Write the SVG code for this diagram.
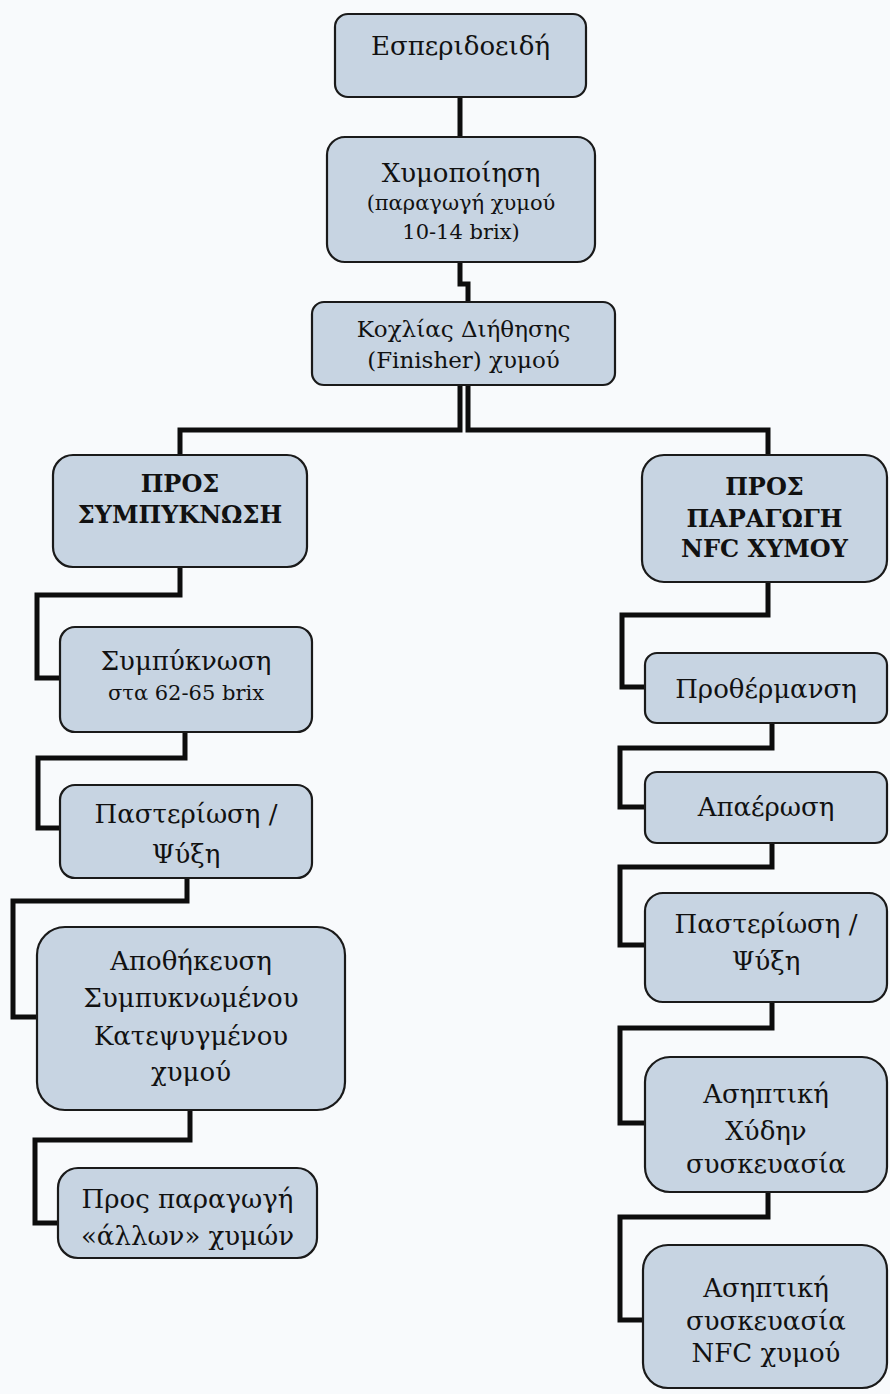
<svg xmlns="http://www.w3.org/2000/svg" width="890" height="1394" viewBox="0 0 890 1394">
<style>
.box{fill:#c7d4e2;stroke:#1a1a1a;stroke-width:2.2}
.t{font-family:"DejaVu Serif","Liberation Serif",serif;font-size:26px;fill:#111;text-anchor:middle}
.s{font-size:21px}
.m{font-size:23px}
.b{font-weight:bold;font-size:24px}
.c{fill:none;stroke:#0d0d0d;stroke-width:5;stroke-linejoin:miter;stroke-linecap:butt}
</style>
<rect x="0" y="0" width="890" height="1394" fill="#f8fafc"/>
<g id="connectors">
<path class="c" d="M460,97 V137"/>
<path class="c" d="M460,262 V284 H468 V302"/>
<path class="c" d="M460,385 V430 H180 V455"/>
<path class="c" d="M468,385 V430 H768 V455"/>
<path class="c" d="M180,567 V595 H37 V678 H60"/>
<path class="c" d="M185,732 V758 H38 V828 H60"/>
<path class="c" d="M187,878 V901 H13 V1017 H37"/>
<path class="c" d="M190,1110 V1140 H35 V1223 H58"/>
<path class="c" d="M768,582 V615 H622 V687 H645"/>
<path class="c" d="M772,723 V748 H620 V807 H645"/>
<path class="c" d="M772,843 V867 H620 V945 H645"/>
<path class="c" d="M772,1002 V1028 H620 V1123 H645"/>
<path class="c" d="M768,1192 V1217 H620 V1320 H643"/>
</g>
<g id="n1"><rect class="box" x="335" y="14" width="251" height="83" rx="13"/><text class="t" x="460.5" y="55">Εσπεριδοειδή</text></g>
<g id="n2"><rect class="box" x="327" y="137" width="268" height="125" rx="18"/><text class="t" x="461" y="182">Χυμοποίηση</text><text class="t s" x="461" y="210">(παραγωγή χυμού</text><text class="t s" x="461" y="239">10-14 brix)</text></g>
<g id="n3"><rect class="box" x="312" y="302" width="303" height="83" rx="12"/><text class="t m" x="463.5" y="337">Κοχλίας Διήθησης</text><text class="t m" x="463.5" y="368">(Finisher) χυμού</text></g>
<g id="n4"><rect class="box" x="53" y="455" width="254" height="112" rx="20"/><text class="t b" x="180" y="492">ΠΡΟΣ</text><text class="t b" x="180" y="523">ΣΥΜΠΥΚΝΩΣΗ</text></g>
<g id="n5"><rect class="box" x="642" y="455" width="245" height="127" rx="22"/><text class="t b" x="764.5" y="495">ΠΡΟΣ</text><text class="t b" x="764.5" y="527">ΠΑΡΑΓΩΓΗ</text><text class="t b" x="764.5" y="557">NFC ΧΥΜΟΥ</text></g>
<g id="n6"><rect class="box" x="60" y="627" width="252" height="105" rx="15"/><text class="t" x="186" y="670">Συμπύκνωση</text><text class="t s" x="186" y="700">στα 62-65 brix</text></g>
<g id="n7"><rect class="box" x="645" y="653" width="242" height="70" rx="12"/><text class="t" x="766" y="698">Προθέρμανση</text></g>
<g id="n8"><rect class="box" x="60" y="785" width="252" height="93" rx="15"/><text class="t" x="186" y="823">Παστερίωση /</text><text class="t" x="186" y="863">Ψύξη</text></g>
<g id="n9"><rect class="box" x="37" y="927" width="308" height="183" rx="28"/><text class="t" x="191" y="970">Αποθήκευση</text><text class="t" x="191" y="1007">Συμπυκνωμένου</text><text class="t" x="191" y="1045">Κατεψυγμένου</text><text class="t" x="191" y="1081">χυμού</text></g>
<g id="n10"><rect class="box" x="58" y="1168" width="259" height="90" rx="20"/><text class="t" x="187.5" y="1208">Προς παραγωγή</text><text class="t" x="187.5" y="1245">«άλλων» χυμών</text></g>
<g id="n11"><rect class="box" x="645" y="772" width="242" height="71" rx="12"/><text class="t" x="766" y="816">Απαέρωση</text></g>
<g id="n12"><rect class="box" x="645" y="893" width="242" height="109" rx="18"/><text class="t" x="766" y="933">Παστερίωση /</text><text class="t" x="766" y="970">Ψύξη</text></g>
<g id="n13"><rect class="box" x="645" y="1057" width="242" height="135" rx="25"/><text class="t" x="766" y="1103">Ασηπτική</text><text class="t" x="766" y="1140">Χύδην</text><text class="t" x="766" y="1173">συσκευασία</text></g>
<g id="n14"><rect class="box" x="643" y="1245" width="244" height="143" rx="25"/><text class="t" x="766" y="1297">Ασηπτική</text><text class="t" x="766" y="1330">συσκευασία</text><text class="t" x="766" y="1362">NFC χυμού</text></g>
</svg>
